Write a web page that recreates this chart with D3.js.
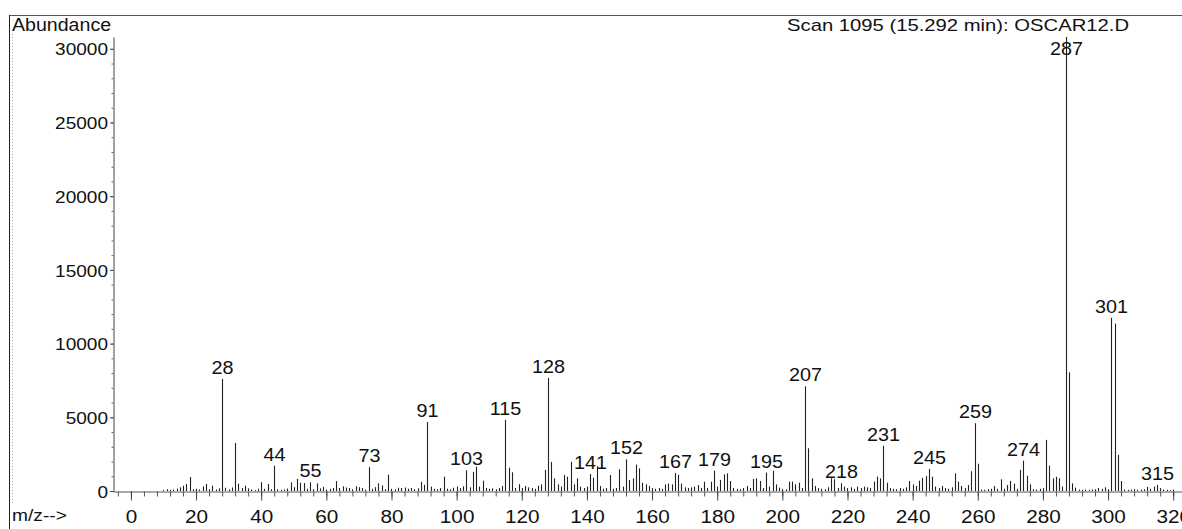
<!DOCTYPE html>
<html>
<head>
<meta charset="utf-8">
<script src="https://cdn.jsdelivr.net/npm/d3@7"></script>
<style>
  body { margin: 0; background: #fff; }
  svg { display: block; }
  text { font-family: "Liberation Sans", Arial, sans-serif; fill: #111; }
</style>
</head>
<body>
<svg id="chart" width="1182" height="529"></svg>
<script>
// Mass spectrum, scan 1095 (15.292 min) of OSCAR12.D
const massToCharge = [
  10,11,12,13,14,15,16,17,18,19,20,21,22,23,24,25,26,27,28,29,
  30,31,32,33,34,35,36,37,38,39,40,41,42,43,44,45,46,47,48,49,
  50,51,52,53,54,55,56,57,58,59,60,61,62,63,64,65,66,67,68,69,
  70,71,72,73,74,75,76,77,78,79,80,81,82,83,84,85,86,87,88,89,
  90,91,92,93,94,95,96,97,98,99,100,101,102,103,104,105,106,107,108,109,
  110,111,112,113,114,115,116,117,118,119,120,121,122,123,124,125,126,127,128,129,
  130,131,132,133,134,135,136,137,138,139,140,141,142,143,144,145,146,147,148,149,
  150,151,152,153,154,155,156,157,158,159,160,161,162,163,164,165,166,167,168,169,
  170,171,172,173,174,175,176,177,178,179,180,181,182,183,184,185,186,187,188,189,
  190,191,192,193,194,195,196,197,198,199,200,201,202,203,204,205,206,207,208,209,
  210,211,212,213,214,215,216,217,218,219,220,221,222,223,224,225,226,227,228,229,
  230,231,232,233,234,235,236,237,238,239,240,241,242,243,244,245,246,247,248,249,
  250,251,252,253,254,255,256,257,258,259,260,261,262,263,264,265,266,267,268,269,
  270,271,272,273,274,275,276,277,278,279,280,281,282,283,284,285,286,287,288,289,
  290,291,292,293,294,295,296,297,298,299,300,301,302,303,304,305,306,307,308,309,
  310,311,312,313,314,315,316,317,318,319,320
];
const abundance = [
  60,120,80,100,160,250,360,480,950,120,150,100,320,480,120,360,100,180,7600,220,
  120,240,3250,500,200,360,180,100,60,160,600,150,480,120,1720,120,80,100,160,580,
  260,820,560,540,150,590,120,520,180,280,100,150,200,670,200,320,240,200,120,320,
  260,200,100,1620,150,260,520,380,120,1110,150,120,220,200,240,150,200,120,180,620,
  420,4670,300,150,120,200,970,160,120,220,300,200,320,1400,250,1300,1650,300,700,200,
  150,180,120,200,340,4830,1580,1270,200,460,200,340,250,200,150,360,450,1430,7670,1970,
  860,450,300,1090,970,1980,450,860,300,200,300,1150,900,1680,340,150,200,1090,150,200,
  1470,300,2150,750,860,1790,1540,560,450,340,200,150,200,150,450,500,450,1230,1100,500,
  250,200,250,300,400,200,630,200,630,1380,300,750,1130,1200,680,200,150,120,200,340,
  200,820,860,680,200,1250,300,1380,450,230,150,120,640,640,450,560,200,7100,2900,860,
  340,200,150,120,250,860,800,200,520,300,200,250,150,300,200,300,250,200,640,980,
  860,3070,560,200,150,120,200,150,250,680,450,340,700,900,1020,1500,970,300,200,340,
  200,150,250,1200,640,340,200,400,1340,4600,1850,100,80,120,150,340,150,790,150,400,
  680,500,150,1430,2060,1040,450,120,100,150,200,3470,1720,860,970,860,300,30800,8050,520,
  230,100,80,100,80,100,120,200,150,250,120,11750,11360,2450,680,100,80,100,120,80,
  100,120,270,150,300,420,200,100,80,60,100
];
// Ions annotated with their m/z above the bar
const labeledIons = [28,44,55,73,91,103,115,128,141,152,167,179,195,207,218,231,245,259,274,287,301,315];
const xTickValues = d3.range(0, 321, 20);
const xMinorTicks = d3.range(-4, 323, 4);
const yTickValues = d3.range(0, 30001, 5000);
const yMinorTicks = d3.range(0, 30801, 1000);
const yTitle = "Abundance";
const xTitle = "m/z-->";
const headerText = "Scan 1095 (15.292 min): OSCAR12.D";

const peaks = massToCharge.map((mz, i) => ({ mz, value: abundance[i] }));

const svg = d3.select("#chart");
const x = d3.scaleLinear().domain([-5.5, 322.7]).range([113, 1182]);
const y = d3.scaleLinear().domain([0, 30800]).range([491, 37]);

// Horizontally widened text, as in the instrument printout
function wideText(parent, tx, ty, str, size, sx, anchor) {
  const g = parent.append("g").attr("transform", `translate(${tx},${ty}) scale(${sx},1)`);
  g.append("text")
    .attr("text-anchor", anchor)
    .style("font-size", size + "px")
    .text(str);
  return g;
}

// Frame
svg.append("line").attr("x1", 9).attr("x2", 1182).attr("y1", 15.5).attr("y2", 15.5)
  .attr("stroke", "#555").attr("stroke-width", 1);
svg.append("line").attr("x1", 9.5).attr("x2", 9.5).attr("y1", 15).attr("y2", 529)
  .attr("stroke", "#222").attr("stroke-width", 1);
svg.append("line").attr("x1", 12.5).attr("x2", 12.5).attr("y1", 34).attr("y2", 505)
  .attr("stroke", "#aaa").attr("stroke-width", 1).attr("stroke-dasharray", "1,2");

// Y axis: minor ticks every 1000, labelled ticks every 5000
const yAxisG = svg.append("g").attr("transform", "translate(113.5,0)");
yAxisG.append("g")
  .call(d3.axisLeft(y).tickValues(yMinorTicks).tickSize(2).tickSizeOuter(0).tickFormat(""))
  .call(g => g.select(".domain").attr("stroke", "#444"))
  .call(g => g.selectAll(".tick line").attr("stroke", "#666"));
yAxisG.append("g")
  .call(d3.axisLeft(y).tickValues(yTickValues).tickSize(3.5).tickSizeOuter(0).tickFormat(d3.format("d")))
  .call(g => g.select(".domain").remove())
  .call(g => g.selectAll(".tick line").attr("stroke", "#444"))
  .call(g => g.selectAll(".tick text")
    .attr("x", -5.5 / 1.12)
    .attr("dy", "0.36em")
    .attr("transform", "scale(1.12,1)")
    .style("font-size", "17px")
    .style("font-family", '"Liberation Sans", Arial, sans-serif')
    .attr("fill", "#111"));

// X axis: minor ticks every 4, labelled ticks every 20
const xAxisG = svg.append("g").attr("transform", "translate(0,491.5)");
xAxisG.append("g")
  .call(d3.axisBottom(x).tickValues(xMinorTicks).tickSize(5).tickSizeOuter(0).tickFormat(""))
  .call(g => g.select(".domain").attr("stroke", "#555"))
  .call(g => g.selectAll(".tick line").attr("stroke", "#555"));
xAxisG.append("g")
  .call(d3.axisBottom(x).tickValues(xTickValues).tickSize(9).tickSizeOuter(0))
  .call(g => g.select(".domain").remove())
  .call(g => g.selectAll(".tick line").attr("stroke", "#444"))
  .call(g => g.selectAll(".tick text")
    .attr("y", 31.5)
    .attr("dy", 0)
    .attr("transform", "scale(1.12,1)")
    .style("font-size", "18.5px")
    .style("font-family", '"Liberation Sans", Arial, sans-serif')
    .attr("fill", "#111"));

// Peaks
svg.append("g").selectAll("line")
  .data(peaks)
  .join("line")
  .attr("x1", d => Math.round(x(d.mz)) + 0.5)
  .attr("x2", d => Math.round(x(d.mz)) + 0.5)
  .attr("y1", y(0))
  .attr("y2", d => y(d.value))
  .attr("stroke", "#222")
  .attr("stroke-width", 1.1);

// Peak annotations
const labelG = svg.append("g");
peaks.filter(d => labeledIons.includes(d.mz)).forEach(d => {
  const baseline = Math.max(y(d.value) - 5, 55);
  wideText(labelG, Math.round(x(d.mz)) + 0.5, baseline, String(d.mz), 18, 1.1, "middle");
});

// Titles
wideText(svg, 12, 31, yTitle, 17.5, 1.12, "start");
wideText(svg, 1129, 31, headerText, 16.6, 1.22, "end");
wideText(svg, 12, 521, xTitle, 17, 1.13, "start");
</script>
</body>
</html>
